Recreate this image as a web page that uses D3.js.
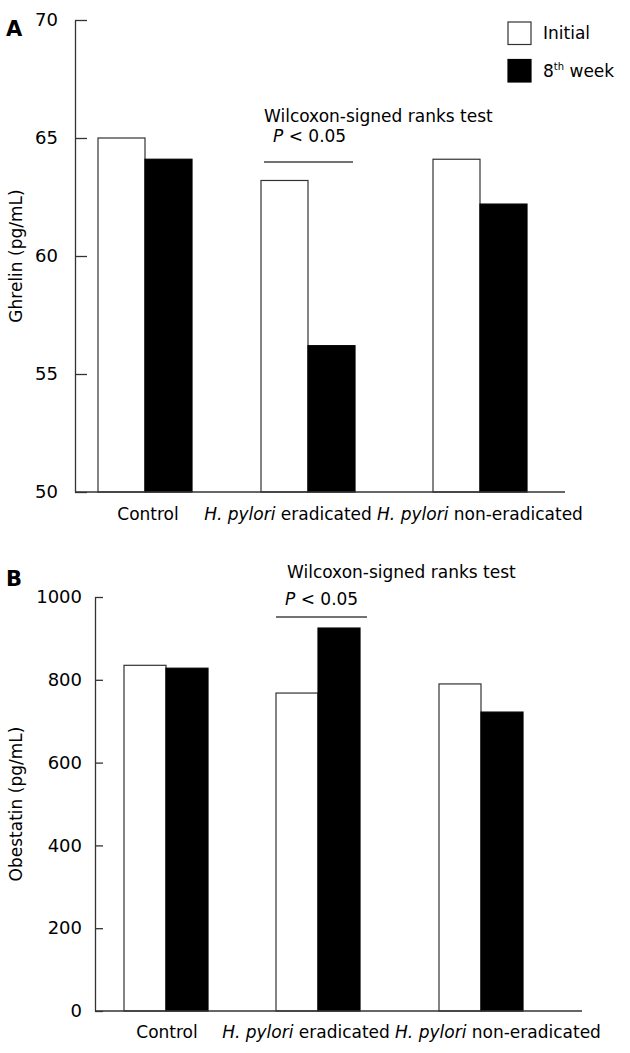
<!DOCTYPE html>
<html>
<head>
<meta charset="utf-8">
<script src="https://cdn.jsdelivr.net/npm/d3@7"></script>
<style>
  html, body { margin: 0; padding: 0; background: #fff; }
  svg { display: block; font-family: "DejaVu Sans", Verdana, sans-serif; }
</style>
</head>
<body>
<svg id="chart" width="630" height="1053"></svg>
<script>
// ---- data ----
const groups = ["Control", "H. pylori eradicated", "H. pylori non-eradicated"];
const seriesNames = ["Initial", "8th week"];
const ghrelinInitial = [65.0, 63.2, 64.1];
const ghrelin8th = [64.1, 56.2, 62.2];
const obestatinInitial = [835, 768, 790];
const obestatin8th = [828, 925, 722];
const ghrelinTicks = [50, 55, 60, 65, 70];
const obestatinTicks = [0, 200, 400, 600, 800, 1000];
const testLabel = "Wilcoxon-signed ranks test";
const pLabel = "< 0.05";

const svg = d3.select("#chart");
const AX = "#333";
const fills = ["#fff", "#000"];
const FS = 17;

function panel(cfg) {
  const g = svg.append("g");
  const y = d3.scaleLinear().domain(cfg.yDomain).range([cfg.yBottom, cfg.yTop]);
  const xc = d3.scaleOrdinal().domain(groups).range(cfg.centers);
  const xs = d3.scaleBand().domain(seriesNames).range([-cfg.barW, cfg.barW]).padding(0);

  // bars
  const rows = [];
  groups.forEach((grp, i) => {
    rows.push({ g: grp, s: seriesNames[0], v: cfg.initial[i] });
    rows.push({ g: grp, s: seriesNames[1], v: cfg.week8[i] });
  });
  g.selectAll("rect.bar").data(rows).join("rect")
    .attr("class", "bar")
    .attr("x", d => xc(d.g) + xs(d.s))
    .attr("width", xs.bandwidth())
    .attr("y", d => y(d.v))
    .attr("height", d => y(cfg.yDomain[0]) - y(d.v))
    .attr("fill", d => fills[seriesNames.indexOf(d.s)])
    .attr("stroke", d => d.s === seriesNames[0] ? AX : "#000")
    .attr("stroke-width", 1.2);

  // y axis
  const ax = g.append("g")
    .attr("transform", `translate(${cfg.axisX},0)`)
    .call(d3.axisLeft(y).tickValues(cfg.ticks).tickFormat(d3.format("d"))
      .tickSizeInner(-cfg.tickLen).tickSizeOuter(0).tickPadding(cfg.tickPad));
  ax.select(".domain").attr("stroke", AX).attr("stroke-width", 1.3);
  ax.selectAll(".tick line").attr("stroke", AX).attr("stroke-width", 1.3);
  ax.selectAll(".tick text").attr("font-size", 18).attr("fill", "#000")
    .attr("font-family", "DejaVu Sans, Verdana, sans-serif");

  // x baseline
  g.append("line")
    .attr("x1", cfg.axisX).attr("x2", cfg.xEnd)
    .attr("y1", y(cfg.yDomain[0])).attr("y2", y(cfg.yDomain[0]))
    .attr("stroke", AX).attr("stroke-width", 1.3);

  // x labels
  groups.forEach((grp, i) => {
    const t = g.append("text")
      .attr("x", xc(grp) + cfg.labelShift[i])
      .attr("y", cfg.labelY)
      .attr("text-anchor", "middle")
      .attr("font-size", FS);
    if (grp.startsWith("H. pylori")) {
      t.append("tspan").attr("font-style", "italic").text("H. pylori");
      t.append("tspan").text(grp.slice(9));
    } else {
      t.text(grp);
    }
  });

  // y title
  g.append("text")
    .attr("transform", `translate(${cfg.titleX},${(cfg.yTop + cfg.yBottom) / 2}) rotate(-90)`)
    .attr("text-anchor", "middle")
    .attr("font-size", FS)
    .text(cfg.title);

  // panel letter
  g.append("text")
    .attr("x", 6).attr("y", cfg.letterY)
    .attr("font-size", 21).attr("font-weight", "bold")
    .text(cfg.letter);

  // significance annotation
  g.append("text").attr("x", cfg.annX).attr("y", cfg.annY1)
    .attr("font-size", FS).text(testLabel);
  const p = g.append("text").attr("x", cfg.pX).attr("y", cfg.annY2).attr("font-size", FS);
  p.append("tspan").attr("font-style", "italic").text("P");
  p.append("tspan").text(" " + pLabel);
  g.append("line")
    .attr("x1", cfg.lineX1).attr("x2", cfg.lineX2)
    .attr("y1", cfg.lineY).attr("y2", cfg.lineY)
    .attr("stroke", "#444").attr("stroke-width", 1.3);
}

panel({
  yDomain: [50, 70], yTop: 20, yBottom: 492,
  centers: [145, 308, 480], barW: 47,
  initial: ghrelinInitial, week8: ghrelin8th, ticks: ghrelinTicks,
  axisX: 75, xEnd: 565, tickLen: 12, tickPad: 17,
  labelY: 520, labelShift: [3, -20, 0],
  titleX: 22, title: "Ghrelin (pg/mL)",
  letter: "A", letterY: 36,
  annX: 264, annY1: 122, pX: 273, annY2: 142,
  lineX1: 264, lineX2: 353, lineY: 162
});

panel({
  yDomain: [0, 1000], yTop: 597, yBottom: 1011,
  centers: [166, 318, 481], barW: 42,
  initial: obestatinInitial, week8: obestatin8th, ticks: obestatinTicks,
  axisX: 95, xEnd: 582, tickLen: 8, tickPad: 13,
  labelY: 1038, labelShift: [1, -12, 17],
  titleX: 22, title: "Obestatin (pg/mL)",
  letter: "B", letterY: 586,
  annX: 287, annY1: 578, pX: 285, annY2: 605,
  lineX1: 276, lineX2: 367, lineY: 617
});

// legend
const legend = svg.append("g");
const legY = d3.scaleBand().domain(seriesNames).range([22, 82]).paddingInner(0.4);
seriesNames.forEach((s, i) => {
  legend.append("rect")
    .attr("x", 508).attr("y", legY(s))
    .attr("width", 23).attr("height", legY.bandwidth())
    .attr("fill", fills[i]).attr("stroke", i === 0 ? AX : "#000").attr("stroke-width", 1.2);
  const t = legend.append("text")
    .attr("x", 543).attr("y", legY(s) + legY.bandwidth() / 2 + 6)
    .attr("font-size", FS);
  if (s === "8th week") {
    t.append("tspan").text("8");
    t.append("tspan").attr("font-size", 10).attr("dy", -7).text("th");
    t.append("tspan").attr("dy", 7).text(" week");
  } else {
    t.text(s);
  }
});
</script>
</body>
</html>
